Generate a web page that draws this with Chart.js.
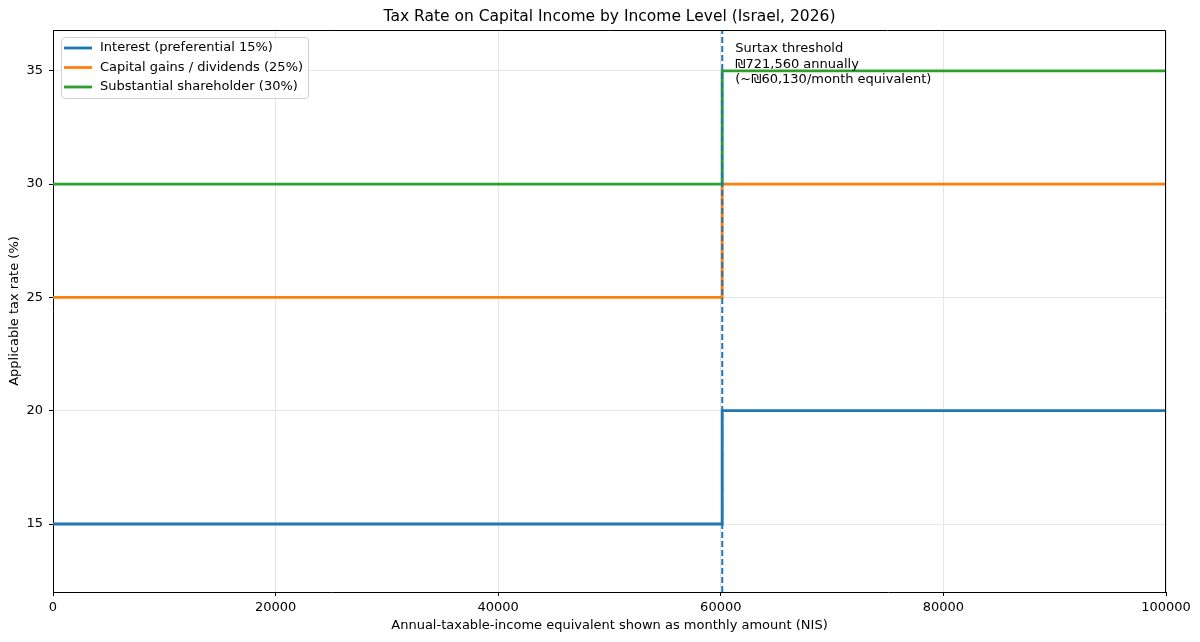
<!DOCTYPE html>
<html>
<head>
<meta charset="utf-8">
<script src="https://cdn.jsdelivr.net/npm/chart.js@4/dist/chart.umd.min.js"></script>
<style>
  html, body { margin: 0; padding: 0; background: #fff; }
  #wrap { width: 1200px; height: 642px; }
</style>
</head>
<body>
<div id="wrap"><canvas id="chart" width="1200" height="642"></canvas></div>
<script>
// data
const incomePoints = [0, 60130, 100000];
const surtaxThreshold = 60130;
const interestRates = [15, 20, 20];
const capitalGainsRates = [25, 30, 30];
const shareholderRates = [30, 35, 35];
const seriesLabels = [
  'Interest (preferential 15%)',
  'Capital gains / dividends (25%)',
  'Substantial shareholder (30%)'
];
const yTicks = [15, 20, 25, 30, 35];
const xTicks = [0, 20000, 40000, 60000, 80000, 100000];
const yRange = [12, 36.8];
const chartTitle = 'Tax Rate on Capital Income by Income Level (Israel, 2026)';
const noteLines = ['Surtax threshold', '₪721,560 annually', '(~₪60,130/month equivalent)'];

const FONT = "'DejaVu Sans', sans-serif";
const colors = ['#1f77b4', '#ff7f0e', '#2ca02c'];

const toPoints = (vals) => incomePoints.map((x, i) => ({ x, y: vals[i] }));

const stepSeries = [interestRates, capitalGainsRates, shareholderRates].map((vals, i) => ({
  label: seriesLabels[i],
  data: toPoints(vals),
  borderColor: colors[i],
  backgroundColor: colors[i],
  borderWidth: 2.8,
  stepped: true,
  pointRadius: 0,
  fill: false,
  order: 3 - i
}));

const thresholdLine = {
  label: 'threshold',
  data: [{ x: surtaxThreshold, y: yRange[0] }, { x: surtaxThreshold, y: yRange[1] }],
  borderColor: colors[0],
  borderWidth: 2,
  borderDash: [6, 3],
  pointRadius: 0,
  fill: false,
  order: 0
};

// title, frame, legend box and threshold note
const extras = {
  id: 'extras',
  afterDraw(chart) {
    const { ctx, chartArea: a, scales } = chart;
    ctx.save();

    // top and right spines (left/bottom come from the axes)
    ctx.strokeStyle = '#000';
    ctx.lineWidth = 1;
    ctx.beginPath();
    ctx.moveTo(a.left, a.top + 0.5);
    ctx.lineTo(a.right - 0.5, a.top + 0.5);
    ctx.lineTo(a.right - 0.5, a.bottom);
    ctx.stroke();

    // title centred over the plot area
    ctx.fillStyle = '#000';
    ctx.font = '15.5px ' + FONT;
    ctx.textAlign = 'center';
    ctx.textBaseline = 'middle';
    ctx.fillText(chartTitle, (a.left + a.right) / 2, 17);

    // note next to the dashed line
    ctx.font = '13px ' + FONT;
    ctx.textAlign = 'left';
    const nx = scales.x.getPixelForValue(surtaxThreshold) + 13;
    noteLines.forEach((t, i) => ctx.fillText(t, nx, a.top + 19 + i * 15.5));

    // legend
    const lx = a.left + 8, ly = a.top + 7, lw = 247, lh = 61;
    ctx.beginPath();
    ctx.roundRect(lx + 0.5, ly + 0.5, lw, lh, 3);
    ctx.fillStyle = 'rgba(255,255,255,0.8)';
    ctx.fill();
    ctx.strokeStyle = '#d0d0d0';
    ctx.stroke();
    stepSeries.forEach((ds, i) => {
      const y = ly + 11 + i * 19.5;
      ctx.strokeStyle = ds.borderColor;
      ctx.lineWidth = 2.8;
      ctx.beginPath();
      ctx.moveTo(lx + 3, y);
      ctx.lineTo(lx + 31, y);
      ctx.stroke();
      ctx.fillStyle = '#000';
      ctx.fillText(ds.label, lx + 39, y);
    });
    ctx.restore();
  }
};

new Chart(document.getElementById('chart'), {
  type: 'line',
  data: { datasets: [...stepSeries, thresholdLine] },
  plugins: [extras],
  options: {
    responsive: false,
    animation: false,
    devicePixelRatio: 1,
    layout: { padding: { left: 0, right: 34, top: 30, bottom: 0 } },
    plugins: {
      legend: { display: false },
      tooltip: { enabled: false },
      title: { display: false }
    },
    scales: {
      x: {
        type: 'linear',
        min: incomePoints[0],
        max: incomePoints[incomePoints.length - 1],
        afterFit(s) { s.height = 50; },
        afterBuildTicks(s) { s.ticks = xTicks.map(v => ({ value: v })); },
        ticks: {
          color: '#000',
          font: { family: FONT, size: 13 },
          padding: 4,
          maxRotation: 0,
          callback: v => String(v)
        },
        grid: { color: '#e6e6e6', tickColor: '#000', tickLength: 4, lineWidth: 1 },
        border: { color: '#000' },
        title: {
          display: true,
          text: 'Annual-taxable-income equivalent shown as monthly amount (NIS)',
          color: '#000',
          font: { family: FONT, size: 13 },
          padding: { top: 0, bottom: 9 }
        }
      },
      y: {
        min: yRange[0],
        max: yRange[1],
        afterFit(s) { s.width = 53; },
        afterBuildTicks(s) { s.ticks = yTicks.map(v => ({ value: v })); },
        ticks: {
          color: '#000',
          font: { family: FONT, size: 13 },
          padding: 6
        },
        grid: { color: '#e6e6e6', tickColor: '#000', tickLength: 4, lineWidth: 1 },
        border: { color: '#000' },
        title: {
          display: true,
          text: 'Applicable tax rate (%)',
          color: '#000',
          font: { family: FONT, size: 13 },
          padding: { top: 7, bottom: 0 }
        }
      }
    }
  }
});
</script>
</body>
</html>
